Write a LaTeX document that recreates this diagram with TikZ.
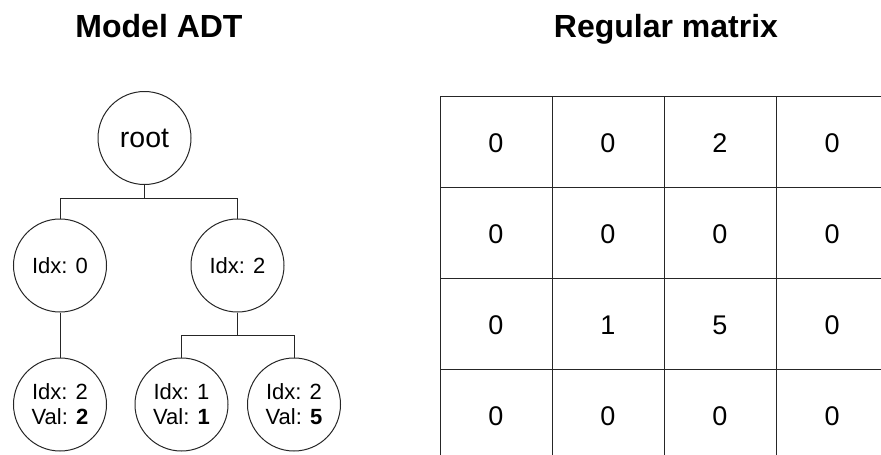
\documentclass[tikz,border=0pt]{standalone}
\usepackage{fontspec}
\setmainfont{Liberation Sans}
\begin{document}
\begin{tikzpicture}[x=1pt,y=-1pt,
  rule/.style={draw=black!85,line width=1pt},
  title/.style={font=\fontsize{32}{38}\selectfont\bfseries,anchor=base,inner sep=0},
  treenode/.style={circle,rule,minimum size=93pt,inner sep=0,align=center,
    font=\fontsize{22}{25}\selectfont},
  rootnode/.style={treenode,font=\fontsize{28.5}{32}\selectfont},
  cell/.style={font=\fontsize{27}{30}\selectfont,inner sep=0}]
\useasboundingbox (0,0) rectangle (881,455);

% headings
\node[title] (tl) at (159,37) {Model ADT};
\node[title] (tr) at (666,37) {Regular matrix};

% tree of the model ADT
\node[rootnode] (root) at (144.5,138) {root};
\node[treenode] (a) at (60,265.5) {Idx: 0};
\node[treenode] (b) at (237.5,265.5) {Idx: 2};
\node[treenode] (a1) at (60,404.5) {Idx: 2\\Val: \textbf{2}};
\node[treenode] (b1) at (181.5,404.5) {Idx: 1\\Val: \textbf{1}};
\node[treenode] (b2) at (294,404.5) {Idx: 2\\Val: \textbf{5}};

\draw[rule] (root.south) -- ++(0,13.5) coordinate (rj);
\draw[rule] (rj) -| (a.north);
\draw[rule] (rj) -| (b.north);
\draw[rule] (a.south) -- (a1.north);
\draw[rule] (b.south) -- ++(0,23) coordinate (bj);
\draw[rule] (bj) -| (b1.north);
\draw[rule] (bj) -| (b2.north);

% regular matrix grid (continues past the right and lower edges)
\foreach \x in {440,552,664,776} \draw[rule] (\x,96) -- (\x,455);
\foreach \y in {96,187,278,369} \draw[rule] (440,\y) -- (881,\y);

\foreach \row [count=\r from 0] in {{0,0,2,0},{0,0,0,0},{0,1,5,0},{0,0,0,0}} {
  \foreach \v [count=\c from 0] in \row {
    \node[cell] (m\r\c) at (496+112*\c,143+91*\r) {\v};
  }
}
\end{tikzpicture}
\end{document}
